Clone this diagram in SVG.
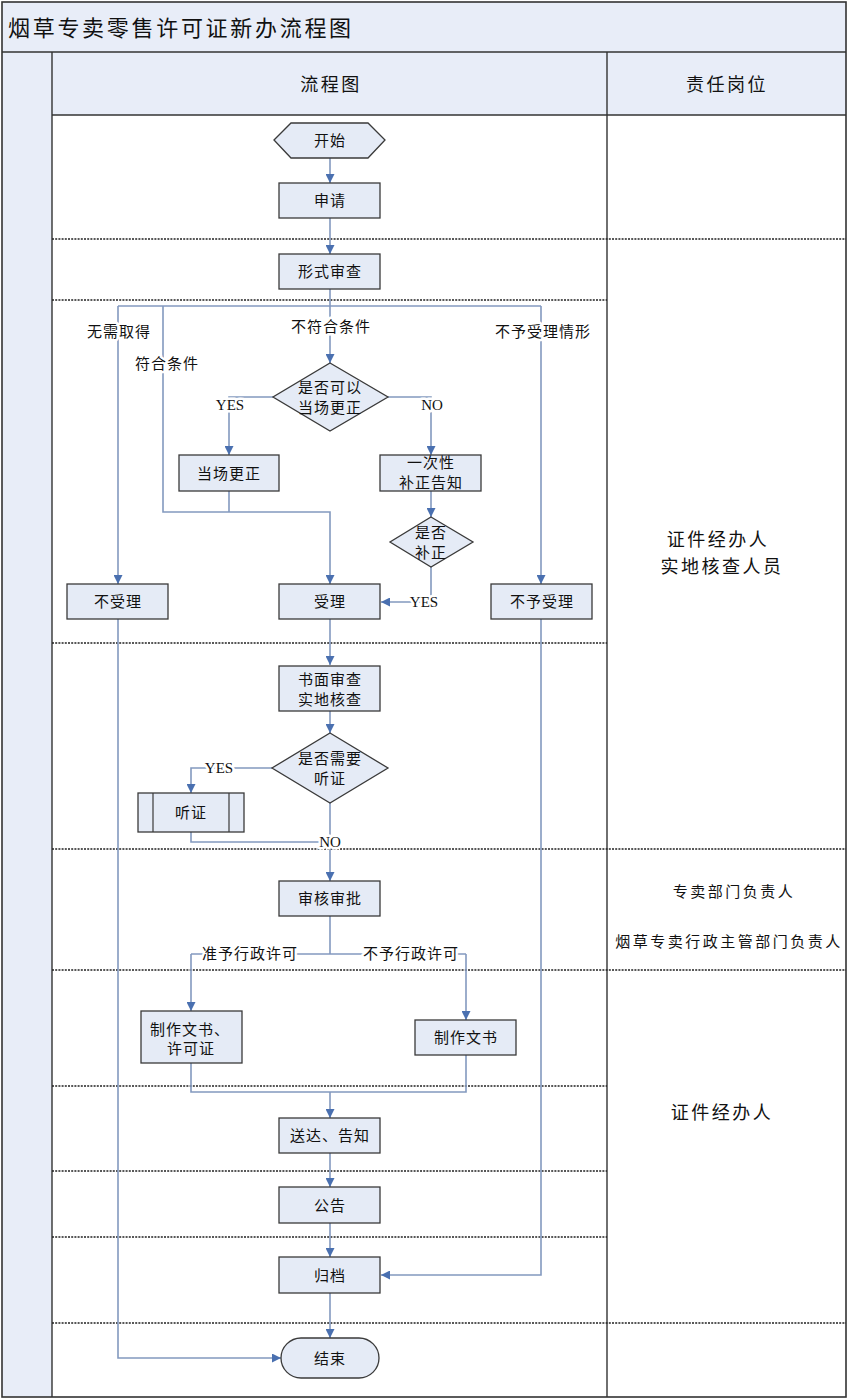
<svg xmlns="http://www.w3.org/2000/svg" width="856" height="1400" viewBox="0 0 856 1400">
<defs>
<marker id="arr" viewBox="0 0 10 10" refX="10" refY="5" markerWidth="9" markerHeight="9" markerUnits="userSpaceOnUse" orient="auto">
<path d="M0,0 L10,5 L0,10 z" fill="#4a70b0"/>
</marker>
<style>
.band{fill:#e8edf8;stroke:none}
.frame{fill:none;stroke:#333;stroke-width:1.6}
.solid{stroke:#333;stroke-width:1.4;fill:none}
.dot{stroke:#222;stroke-width:1.3;stroke-dasharray:2 1.2;fill:none}
.node{fill:#e5ebf6;stroke:#3a3a3a;stroke-width:1.3}
.t{font-family:"Noto Sans CJK SC","Noto Sans",sans-serif;font-size:15px;fill:#111;text-anchor:middle;letter-spacing:1px}
.lab{font-family:"Noto Sans CJK SC","Noto Sans",sans-serif;font-size:15px;fill:#111;text-anchor:middle;letter-spacing:1px;stroke:#fff;stroke-width:5px;paint-order:stroke;stroke-linejoin:round}
.en{font-family:"Liberation Serif",serif;font-size:15px;fill:#111;text-anchor:middle;stroke:#fff;stroke-width:5px;paint-order:stroke;stroke-linejoin:round}
.hd{font-family:"Noto Sans CJK SC","Noto Sans",sans-serif;font-size:18px;fill:#111;text-anchor:middle;letter-spacing:2.5px}
.rs{font-family:"Noto Sans CJK SC","Noto Sans",sans-serif;font-size:15px;fill:#111;text-anchor:middle;letter-spacing:2.5px}
.c{stroke:#8399bf;stroke-width:1.6;fill:none}
.ca{stroke:#8399bf;stroke-width:1.6;fill:none;marker-end:url(#arr)}
</style>
</defs>
<rect x="0" y="0" width="856" height="1400" fill="#fff"/>
<g id="frame">
<rect class="band" x="2" y="2" width="844" height="50"/>
<rect class="band" x="2" y="52" width="50" height="1345"/>
<rect class="band" x="52" y="52" width="794" height="63"/>
<rect class="frame" x="2" y="2" width="844" height="1395"/>
<line class="solid" x1="2" y1="52" x2="846" y2="52"/>
<line class="solid" x1="52" y1="52" x2="52" y2="1397"/>
<line class="solid" x1="607" y1="52" x2="607" y2="1397"/>
<line class="solid" x1="52" y1="115" x2="846" y2="115"/>
<text x="8" y="36" style="font-family:'Noto Sans CJK SC','Noto Sans',sans-serif;font-size:22px;letter-spacing:2.7px;fill:#111">烟草专卖零售许可证新办流程图</text>
<text class="hd" x="331" y="91">流程图</text>
<text class="hd" x="727" y="91">责任岗位</text>
</g>
<g id="lanes">
<line class="dot" x1="52" y1="239" x2="846" y2="239"/>
<line class="dot" x1="52" y1="300" x2="607" y2="300"/>
<line class="dot" x1="52" y1="643" x2="607" y2="643"/>
<line class="dot" x1="52" y1="849" x2="846" y2="849"/>
<line class="dot" x1="52" y1="970" x2="846" y2="970"/>
<line class="dot" x1="52" y1="1086" x2="607" y2="1086"/>
<line class="dot" x1="52" y1="1171" x2="607" y2="1171"/>
<line class="dot" x1="52" y1="1237" x2="607" y2="1237"/>
<line class="dot" x1="52" y1="1323" x2="846" y2="1323"/>
</g>
<g id="roles">
<text class="hd" x="718" y="546">证件经办人</text>
<text class="hd" x="722" y="573">实地核查人员</text>
<text class="rs" x="734" y="897">专卖部门负责人</text>
<text class="rs" x="729" y="947">烟草专卖行政主管部门负责人</text>
<text class="hd" x="722" y="1119">证件经办人</text>
</g>
<g id="connectors">
<path class="ca" d="M330,158 V183"/>
<path class="ca" d="M330,218 V254"/>
<path class="ca" d="M330,289 V363"/>
<path class="c" d="M118,306 H541"/>
<path class="ca" d="M118,306 V584"/>
<path class="ca" d="M541,306 V584"/>
<path class="ca" d="M163,306 V512 H330 V584"/>
<path class="c" d="M229,491 V512"/>
<path class="ca" d="M273,397 H229 V455"/>
<path class="ca" d="M388,397 H431 V455"/>
<path class="ca" d="M431,491 V517"/>
<path class="ca" d="M431,567 V602 H381"/>
<path class="ca" d="M330,619 V665"/>
<path class="ca" d="M330,711 V733"/>
<path class="ca" d="M272,768 H191 V793"/>
<path class="c" d="M191,832 V842 H330"/>
<path class="ca" d="M330,803 V881"/>
<path class="c" d="M330,916 V954"/>
<path class="c" d="M191,954 H466"/>
<path class="ca" d="M191,954 V1011"/>
<path class="ca" d="M466,954 V1020"/>
<path class="c" d="M191,1063 V1092 H466 V1055"/>
<path class="ca" d="M330,1092 V1118"/>
<path class="ca" d="M330,1153 V1187"/>
<path class="ca" d="M330,1223 V1257"/>
<path class="ca" d="M330,1293 V1338"/>
<path class="ca" d="M541,619 V1275 H381"/>
<path class="ca" d="M118,619 V1358 H281"/>
<text class="lab" x="119" y="337">无需取得</text>
<text class="lab" x="167" y="369">符合条件</text>
<text class="lab" x="331" y="332">不符合条件</text>
<text class="lab" x="543" y="337">不予受理情形</text>
<text class="en" x="230" y="410">YES</text>
<text class="en" x="432" y="410">NO</text>
<text class="en" x="424" y="607">YES</text>
<text class="en" x="219" y="773">YES</text>
<text class="en" x="330" y="847">NO</text>
<text class="lab" x="250" y="959">准予行政许可</text>
<text class="lab" x="411" y="959">不予行政许可</text>
</g>
<g id="n-start"><polygon class="node" points="274,140 291,123 368,123 385,140 368,158 291,158"/><text class="t" x="330" y="146">开始</text></g>
<g id="n-apply"><rect class="node" x="279" y="183" width="101" height="35"/><text class="t" x="330" y="206">申请</text></g>
<g id="n-formal"><rect class="node" x="279" y="254" width="101" height="35"/><text class="t" x="330" y="277">形式审查</text></g>
<g id="n-d1"><polygon class="node" points="330,363 388,397 330,431 273,397"/><text class="t" x="330" y="392.5">是否可以</text><text class="t" x="330" y="412.5">当场更正</text></g>
<g id="n-fix"><rect class="node" x="179" y="455" width="100" height="36"/><text class="t" x="229" y="479">当场更正</text></g>
<g id="n-notify"><rect class="node" x="380" y="455" width="101" height="36"/><text class="t" x="431" y="468">一次性</text><text class="t" x="431" y="488">补正告知</text></g>
<g id="n-d2"><polygon class="node" points="431,517 473,542 431,567 390,542"/><text class="t" x="431" y="537.5">是否</text><text class="t" x="431" y="557.5">补正</text></g>
<g id="n-reject"><rect class="node" x="67" y="584" width="101" height="35"/><text class="t" x="118" y="607">不受理</text></g>
<g id="n-accept"><rect class="node" x="279" y="584" width="101" height="35"/><text class="t" x="330" y="607">受理</text></g>
<g id="n-noaccept"><rect class="node" x="491" y="584" width="101" height="35"/><text class="t" x="542" y="607">不予受理</text></g>
<g id="n-review"><rect class="node" x="279" y="666" width="101" height="45"/><text class="t" x="330" y="685">书面审查</text><text class="t" x="330" y="705">实地核查</text></g>
<g id="n-d3"><polygon class="node" points="330,733 388,768 330,803 272,768"/><text class="t" x="330" y="763.5">是否需要</text><text class="t" x="330" y="783.5">听证</text></g>
<g id="n-hearing"><rect class="node" x="138" y="793" width="106" height="39"/><line x1="153" y1="793" x2="153" y2="832" style="stroke:#3a3a3a;stroke-width:1.2"/><line x1="229" y1="793" x2="229" y2="832" style="stroke:#3a3a3a;stroke-width:1.2"/><text class="t" x="191" y="818">听证</text></g>
<g id="n-approve"><rect class="node" x="279" y="881" width="101" height="35"/><text class="t" x="330" y="904">审核审批</text></g>
<g id="n-doc1"><rect class="node" x="141" y="1011" width="101" height="52"/><text class="t" x="190" y="1035">制作文书、</text><text class="t" x="191" y="1054">许可证</text></g>
<g id="n-doc2"><rect class="node" x="415" y="1020" width="101" height="35"/><text class="t" x="466" y="1043">制作文书</text></g>
<g id="n-deliver"><rect class="node" x="279" y="1118" width="101" height="35"/><text class="t" x="330" y="1141">送达、告知</text></g>
<g id="n-notice"><rect class="node" x="279" y="1187" width="101" height="36"/><text class="t" x="330" y="1211">公告</text></g>
<g id="n-archive"><rect class="node" x="279" y="1257" width="101" height="36"/><text class="t" x="330" y="1281">归档</text></g>
<g id="n-end"><rect class="node" x="281" y="1338" width="98" height="40" rx="20" ry="20"/><text class="t" x="330" y="1364">结束</text></g>
</svg>
